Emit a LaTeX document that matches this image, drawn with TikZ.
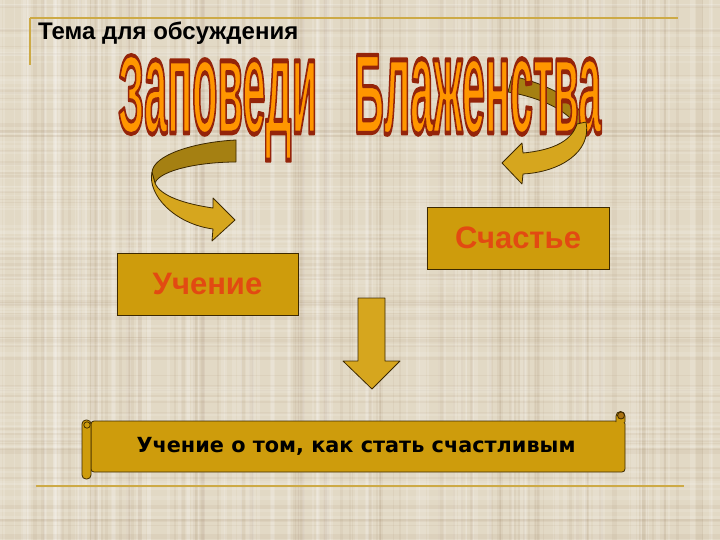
\documentclass[tikz,border=0pt]{standalone}
\usepackage{fontspec}
\setmainfont{Liberation Sans}
\newfontfamily\scrollfont{DejaVu Sans}
\usepackage{graphicx}
\usetikzlibrary{fadings}
\definecolor{bgc}{RGB}{226,217,197}
\definecolor{lineg}{RGB}{205,170,70}
\definecolor{goldf}{RGB}{206,156,12}
\definecolor{goldl}{RGB}{214,166,30}
\definecolor{goldd}{RGB}{165,128,18}
\definecolor{edge}{RGB}{60,40,0}
\definecolor{boxtxt}{RGB}{226,74,18}
\definecolor{watop}{RGB}{255,236,0}
\definecolor{wamid}{RGB}{255,150,0}
\definecolor{wabot}{RGB}{245,55,0}
\definecolor{curlc}{RGB}{170,115,20}
\tikzset{
  wanode/.style={inner sep=0pt, anchor=base west, font=\bfseries\fontsize{42}{42}\selectfont},
  boxnode/.style={draw=edge, line width=0.8pt, fill=goldf, text=boxtxt, inner sep=0pt,
    font=\bfseries\fontsize{31}{33}\selectfont},
  shapest/.style={draw=edge, line width=0.8pt, line join=round},
  frontst/.style={shapest, fill=goldl},
  backst/.style={shapest, fill=goldd},
  scrollst/.style={draw=edge, line width=0.8pt, fill=goldf},
  rule/.style={draw=lineg, line width=2pt}
}
\newcommand\strkon{\special{pdf:literal direct 0.58 0.14 0.04 RG 1.5 w 1 j 2 Tr}}
\newcommand\strkoff{\special{pdf:literal direct 0 Tr 0 j}}
\newcommand\wordA{\resizebox{199pt}{78pt}{З\scalebox{1}[1.22]{аповеди}}}
\newcommand\wordB{\resizebox{247pt}{78pt}{Б\scalebox{1}[1.22]{лаженства}}}
\begin{tikzfadingfrompicture}[name=wafade]
  \begin{scope}[x=1pt, y=-1pt]
  \path (-250,-55) rectangle (250,55);
  \begin{scope}[shift={(-360,-95)}]
    \node[wanode,text=transparent!0] at (118,133) {\wordA};
    \node[wanode,text=transparent!0] at (354,133) {\wordB};
  \end{scope}
  \end{scope}
\end{tikzfadingfrompicture}
\begin{document}
\begin{tikzpicture}[x=1pt, y=-1pt]
\useasboundingbox (0,0) rectangle (720,540);
\fill[bgc] (0,0) rectangle (720,540);
% texture
\pgfmathsetseed{7}
\foreach \i in {1,...,110}{
  \pgfmathsetmacro\xa{720*rnd}
  \pgfmathsetmacro\wa{1+4*rnd}
  \fill[white,opacity=0.15] (\xa,0) rectangle ++(\wa,540);
}
\foreach \i in {1,...,90}{
  \pgfmathsetmacro\xa{720*rnd}
  \pgfmathsetmacro\wa{1+3*rnd}
  \fill[brown!60!black,opacity=0.05] (\xa,0) rectangle ++(\wa,540);
}
\foreach \i in {1,...,80}{
  \pgfmathsetmacro\ya{540*rnd}
  \pgfmathsetmacro\wa{1+3*rnd}
  \fill[white,opacity=0.11] (0,\ya) rectangle ++(720,\wa);
}
\foreach \i in {1,...,70}{
  \pgfmathsetmacro\ya{540*rnd}
  \pgfmathsetmacro\wa{1+2*rnd}
  \fill[brown!60!black,opacity=0.05] (0,\ya) rectangle ++(720,\wa);
}
% rules
\draw[rule] (30,18) -- (678,18);
\draw[rule] (30,18) -- (30,65);
\draw[rule] (36,486) -- (684,486);
% subject
\node[anchor=base west, inner sep=0pt, font=\bfseries\fontsize{24}{27}\selectfont] (topic) at (38,40) {Тема для обсуждения};
% right arrow back band (behind title)
\draw[backst] (512,76) .. controls (548,84) and (578,100) .. (586,122) -- (577,126) .. controls (566,110) and (542,98) .. (508,92) -- cycle;
% WordArt title: outlined text, then gradient through a fading
\node[wanode,text=wamid] (wa1) at (118,133) {\strkon\wordA\strkoff};
\node[wanode,text=wamid] (wa2) at (354,133) {\strkon\wordB\strkoff};
\shade[path fading=wafade, fit fading=false, top color=watop, middle color=wamid, bottom color=wabot] (110,40) rectangle (610,150);
% left curved arrow
\draw[backst] (236,140) .. controls (195,142) and (152,155) .. (152,173) -- (155,183) .. controls (160,170) and (200,162) .. (236,162) -- cycle;
\draw[frontst] (152,172) .. controls (147,195) and (175,224) .. (213,229) -- (212,241) -- (235,220) -- (213,198) -- (213,208) .. controls (185,204) and (160,196) .. (155,183) -- cycle;
% right curved arrow front
\draw[frontst] (577,124) .. controls (572,140) and (555,150) .. (523,153) -- (522,143) -- (502,163) -- (522,184) -- (523,174) .. controls (560,172) and (592,152) .. (586,122) -- cycle;
% boxes
\node[boxnode, minimum width=181pt, minimum height=62pt] (uch) at (207.5,284) {Учение};
\node[boxnode, minimum width=182pt, minimum height=62pt] (sch) at (518,238) {Счастье};
% down arrow
\draw[shapest, fill=goldl] (358,298) -- (385,298) -- (385,361) -- (400,361) -- (372,389) -- (343,361) -- (358,361) -- cycle;
% scroll
\draw[scrollst, rounded corners=3pt] (91,421) rectangle (625,472);
\draw[scrollst] (616,422) -- (616,416) arc[start angle=180, end angle=360, radius=4.5] -- (625,422);
\filldraw[draw=edge, line width=0.8pt, fill=curlc] (621,415.5) circle (3.5);
\draw[scrollst, rounded corners=4pt] (82,420) rectangle (91,479);
\draw[draw=edge, line width=0.7pt] (87,425) circle (3.2);
\node[font=\scrollfont\bfseries\fontsize{20.8}{23}\selectfont, inner sep=0pt] (scr) at (356,446) {Учение о том, как стать счастливым};
\end{tikzpicture}
\end{document}
